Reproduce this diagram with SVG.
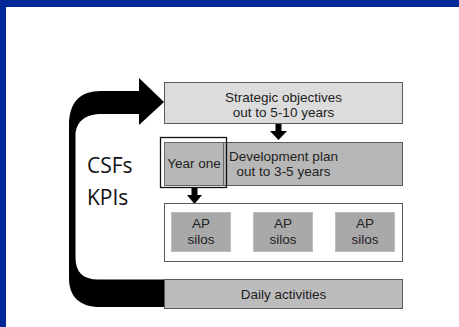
<svg xmlns="http://www.w3.org/2000/svg" width="459" height="327" viewBox="0 0 459 327">
  <style>
    .box { stroke: #5a5a5a; stroke-width: 1; }
    .lbl { font-family: "Liberation Sans", Arial, sans-serif; font-size: 13.5px; fill: #222; text-anchor: middle; }
    .big { font-family: "Open Sans", "DejaVu Sans", sans-serif; font-size: 21px; fill: #111; }
    .silo { fill: #a9a9a9; stroke: #bdbdbd; stroke-width: 1; }
  </style>
  <rect x="0" y="0" width="459" height="327" fill="#ffffff"/>
  <!-- frame bands -->
  <rect x="0" y="0" width="459" height="7" fill="#002896"/>
  <rect x="0" y="0" width="6" height="327" fill="#002896"/>

  <g id="connectors">
    <!-- feedback loop arrow from daily activities back up to strategic objectives -->
    <path d="M164,307 L100,307 C80,307 69,297 69,278 L69,126 C69,102 80,91 101,91 L139,91 L139,78 L164,102 L139,125 L139,114 L102,114 C86,114 75.5,121 75.5,136 L75.5,258 C75.5,272 83,279.5 98,279.5 L164,279.5 Z" fill="#000"/>
    <!-- strategic -> development -->
    <path d="M275.5,124 L281.5,124 L281.5,131 L287,131 L278.5,140 L270,131 L275.5,131 Z" fill="#000"/>
    <!-- year one -> AP silos -->
    <path d="M191.5,188 L197.5,188 L197.5,195 L202,195 L194.5,204 L187,195 L191.5,195 Z" fill="#000"/>
  </g>

  <g id="strategic">
    <rect class="box" x="164.5" y="82.5" width="238" height="41" fill="#dcdcdc"/>
    <text class="lbl" x="283.5" y="102">Strategic objectives</text>
    <text class="lbl" x="283.5" y="117">out to 5-10 years</text>
  </g>

  <g id="development">
    <rect class="box" x="164.5" y="142.5" width="238" height="43" fill="#b7b7b7"/>
    <text class="lbl" x="283.5" y="161">Development plan</text>
    <text class="lbl" x="283.5" y="176">out to 3-5 years</text>
  </g>

  <g id="year-one">
    <rect x="160.5" y="137.5" width="66" height="50" fill="none" stroke="#111" stroke-width="1.3"/>
    <rect x="164.5" y="142.5" width="59" height="43" fill="#b7b7b7" stroke="#666" stroke-width="1"/>
    <text class="lbl" x="194" y="168">Year one</text>
  </g>

  <g id="ap-silos">
    <rect class="box" x="164.5" y="203.5" width="238" height="58" fill="#ffffff"/>
    <rect class="silo" x="171.5" y="212.5" width="59" height="39"/>
    <text class="lbl" x="201" y="228">AP</text>
    <text class="lbl" x="201" y="244">silos</text>
    <rect class="silo" x="253.5" y="212.5" width="59" height="39"/>
    <text class="lbl" x="283" y="228">AP</text>
    <text class="lbl" x="283" y="244">silos</text>
    <rect class="silo" x="335.5" y="212.5" width="59" height="39"/>
    <text class="lbl" x="365" y="228">AP</text>
    <text class="lbl" x="365" y="244">silos</text>
  </g>

  <g id="daily">
    <rect class="box" x="164.5" y="279.5" width="238" height="29" fill="#bcbcbc"/>
    <text class="lbl" x="283.5" y="299">Daily activities</text>
  </g>

  <g id="measures">
    <text class="big" x="87" y="173">CSFs</text>
    <text class="big" x="87" y="205">KPIs</text>
  </g>
</svg>
